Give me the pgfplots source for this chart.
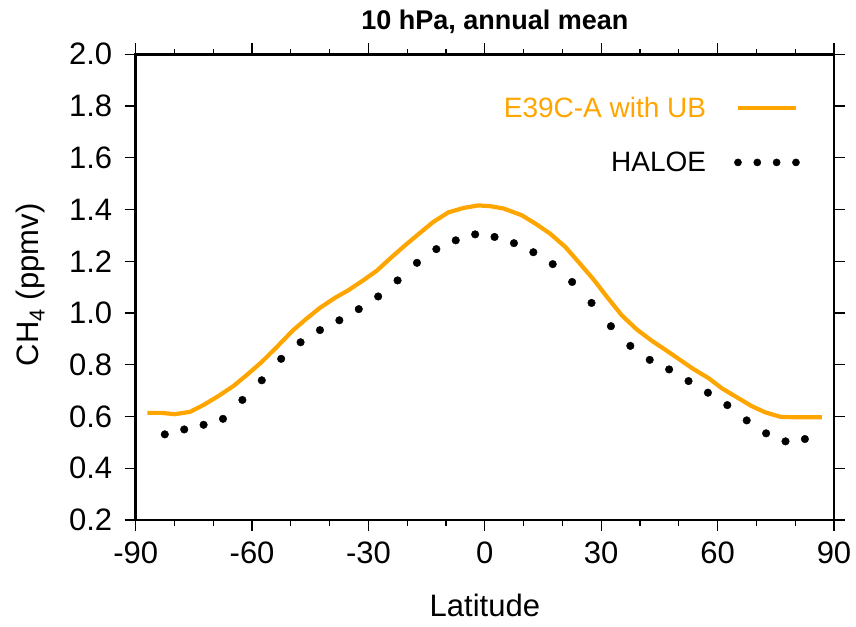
\documentclass[border=0pt]{standalone}
\usepackage{fontspec}
\setmainfont{Liberation Sans}
\usepackage{pgfplots}
\pgfplotsset{compat=1.18}
\definecolor{ubor}{HTML}{FFA500}

\begin{document}
\begin{tikzpicture}
\useasboundingbox (-135.7pt,-106pt) rectangle (720.3pt,520pt);
\begin{axis}[
  scale only axis, width=698.3pt, height=465.7pt,
  xmin=-90, xmax=90, ymin=0.2, ymax=2.0,
  xtick={-90,-60,-30,0,30,60,90},
  xticklabels={-90,-60,-30,0,30,60,90},
  minor x tick num=2,
  ytick={0.2,0.4,0.6,0.8,1.0,1.2,1.4,1.6,1.8,2.0},
  yticklabels={0.2,0.4,0.6,0.8,1.0,1.2,1.4,1.6,1.8,2.0},
  tick align=outside, major tick length=11pt, minor tick length=5.5pt,
  tick style={black, line width=1.2pt},
  axis line style={line width=2.6pt},
  tick label style={font=\fontsize{31}{37}\selectfont},
  xticklabel style={yshift=-7pt},
  yticklabel style={xshift=-9pt},
  label style={font=\fontsize{31}{37}\selectfont},
  xlabel={Latitude},
  xlabel style={at={(axis description cs:0.5,0)}, anchor=base, yshift=-96pt},
  ylabel={CH\textsubscript{4} (ppmv)},
  ylabel style={at={(axis description cs:0,0.505)}, anchor=base, yshift=97.4pt},
  title={\bfseries 10 hPa, annual mean},
  title style={font=\fontsize{27}{32}\selectfont, at={(axis description cs:0.5,1)}, anchor=base, yshift=19pt, xshift=10pt},
  legend cell align=right,
  legend plot pos=right,
  legend style={draw=none, fill=none, font=\fontsize{28}{33}\selectfont,
    at={(axis cs:82.0,1.843)}, anchor=north east,
    row sep=33pt, column sep=28pt, nodes={inner sep=0pt}},
]
\addplot[ubor, line width=4.2pt,
  legend image code/.code={\draw[ubor,line width=4.2pt] (0pt,0pt) -- (58pt,0pt);}]
  coordinates {
  (-87.0,0.614) (-83.3,0.614) (-79.9,0.609) (-76.0,0.618) (-72.6,0.644)
  (-68.7,0.679) (-64.8,0.718) (-61.4,0.760) (-57.5,0.811) (-53.6,0.869)
  (-49.4,0.934) (-45.9,0.979) (-42.5,1.020) (-38.6,1.059) (-35.2,1.088)
  (-31.3,1.127) (-27.9,1.163) (-24.4,1.211) (-21.0,1.256) (-17.1,1.305)
  (-13.3,1.352) (-9.4,1.389) (-5.5,1.406) (-1.7,1.416) (1.4,1.413)
  (4.8,1.404) (9.5,1.378) (13.4,1.342) (16.8,1.307) (20.7,1.256)
  (24.1,1.198) (28.0,1.130) (31.5,1.062) (35.3,0.991) (39.2,0.936)
  (43.1,0.892) (46.9,0.854) (50.4,0.818) (53.8,0.783) (57.7,0.748)
  (61.1,0.709) (65.0,0.674) (68.8,0.640) (72.3,0.616) (76.1,0.599)
  (80.0,0.597) (83.9,0.597) (86.9,0.597)};
\addplot[only marks, mark=*, mark size=3.8pt, black,
  legend image code/.code={\foreach \i in {0,1,2,3} {\fill[black] (\i*19.33pt,0pt) circle (3.6pt);}}]
  coordinates {
  (-82.5,0.531) (-77.5,0.550) (-72.5,0.568) (-67.5,0.591) (-62.5,0.664)
  (-57.5,0.740) (-52.5,0.823) (-47.5,0.887) (-42.5,0.934) (-37.5,0.972)
  (-32.5,1.015) (-27.5,1.064) (-22.5,1.126) (-17.5,1.194) (-12.5,1.247)
  (-7.5,1.281) (-2.5,1.304) (2.5,1.294) (7.5,1.270) (12.5,1.235)
  (17.5,1.189) (22.5,1.120) (27.5,1.039) (32.5,0.949) (37.5,0.873)
  (42.5,0.819) (47.5,0.782) (52.5,0.737) (57.5,0.692) (62.5,0.644)
  (67.5,0.585) (72.5,0.535) (77.5,0.504) (82.5,0.513)};
\legend{\textcolor{ubor}{E39C-A with UB}, HALOE}
\end{axis}
\end{tikzpicture}
\end{document}
